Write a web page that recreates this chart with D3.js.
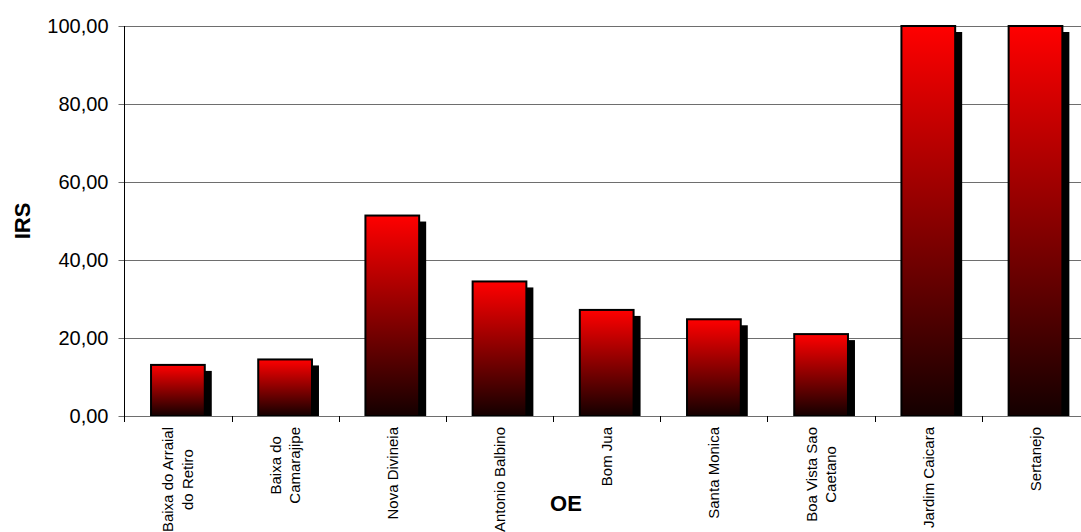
<!DOCTYPE html>
<html>
<head>
<meta charset="utf-8">
<script src="https://cdn.jsdelivr.net/npm/d3@7"></script>
<style>
  html, body { margin: 0; padding: 0; background: #fff; }
  svg { display: block; font-family: "Liberation Sans", Arial, sans-serif; }
</style>
</head>
<body>
<svg id="chart" width="1081" height="532"></svg>
<script>
// IRS per OE
const categories = [
  ["Baixa do Arraial", "do Retiro"],
  ["Baixa do", "Camarajipe"],
  ["Nova Divineia"],
  ["Antonio Balbino"],
  ["Bom Jua"],
  ["Santa Monica"],
  ["Boa Vista Sao", "Caetano"],
  ["Jardim Caicara"],
  ["Sertanejo"]
];
const irsValues = [13.1, 14.5, 51.4, 34.5, 27.2, 24.8, 21.0, 100, 100];
const yTicks = [0, 20, 40, 60, 80, 100];
const yTitle = "IRS";
const xTitle = "OE";

const svg = d3.select("#chart");
const plotLeft = 124.3, plotRight = 1089.1, plotTop = 26, plotBottom = 416;

const keys = categories.map((c, i) => i);
const x = d3.scaleBand().domain(keys).range([plotLeft, plotRight]).paddingInner(0).paddingOuter(0);
const y = d3.scaleLinear().domain([0, 100]).range([plotBottom, plotTop]);
const fmt = v => d3.format(".2f")(v).replace(".", ",");

// vertical red-to-black fill used by each bar
const defs = svg.append("defs");
const grad = defs.append("linearGradient")
  .attr("id", "barFill").attr("x1", 0).attr("y1", 0).attr("x2", 0).attr("y2", 1);
grad.append("stop").attr("offset", "0%").attr("stop-color", "#ff0000");
grad.append("stop").attr("offset", "100%").attr("stop-color", "#140000");
defs.append("clipPath").attr("id", "plotClip")
  .append("rect").attr("x", 0).attr("y", 0).attr("width", 1081).attr("height", plotBottom);

// horizontal gridlines
svg.append("g").selectAll("line").data(yTicks.filter(d => d > 0)).join("line")
  .attr("x1", plotLeft).attr("x2", 1081)
  .attr("y1", d => Math.round(y(d)) + 0.5).attr("y2", d => Math.round(y(d)) + 0.5)
  .attr("stroke", "#6e6e6e").attr("stroke-width", 1);

// y axis
const yAxis = svg.append("g").attr("transform", `translate(${Math.round(plotLeft) + 0.5},0)`)
  .call(d3.axisLeft(y).tickValues(yTicks).tickFormat(fmt).tickSize(6).tickPadding(10));
yAxis.select(".domain").remove();
yAxis.selectAll(".tick line").attr("stroke", "#6e6e6e");
yAxis.selectAll(".tick text")
  .attr("font-size", 20).attr("fill", "#000")
  .attr("font-family", "'Liberation Sans', Arial, sans-serif");
svg.append("line")
  .attr("x1", Math.round(plotLeft) + 0.5).attr("x2", Math.round(plotLeft) + 0.5)
  .attr("y1", y(100)).attr("y2", plotBottom)
  .attr("stroke", "#000").attr("stroke-width", 1);

// bars with offset drop shadow
const barW = x.bandwidth() * 0.52;
const bars = svg.append("g");
bars.append("g").attr("clip-path", "url(#plotClip)")
  .selectAll("rect").data(irsValues).join("rect")
  .attr("x", (d, i) => x(i) + (x.bandwidth() - barW) / 2 + 6)
  .attr("y", d => y(d) + 6)
  .attr("width", barW)
  .attr("height", d => plotBottom - y(d))
  .attr("fill", "#000");
bars.append("g").selectAll("rect").data(irsValues).join("rect")
  .attr("x", (d, i) => x(i) + (x.bandwidth() - barW) / 2 + 1)
  .attr("y", d => y(d))
  .attr("width", barW - 2)
  .attr("height", d => plotBottom - y(d))
  .attr("fill", "url(#barFill)")
  .attr("stroke", "#000").attr("stroke-width", 2);

// x axis line and ticks at band edges
svg.append("line")
  .attr("x1", plotLeft).attr("x2", 1081).attr("y1", plotBottom + 0.5).attr("y2", plotBottom + 0.5)
  .attr("stroke", "#6e6e6e").attr("stroke-width", 1);
svg.append("g").selectAll("line").data(d3.range(0, keys.length + 1)).join("line")
  .attr("x1", i => Math.round(plotLeft + i * x.step()) + 0.5)
  .attr("x2", i => Math.round(plotLeft + i * x.step()) + 0.5)
  .attr("y1", plotBottom).attr("y2", plotBottom + 6)
  .attr("stroke", "#000").attr("stroke-width", 1);

// rotated category labels, lines centred on each other, block starting below the axis
const labelTop = 427, lineGap = 19.5, fs = 15;
categories.forEach((lines, i) => {
  const cx = x(i) + x.bandwidth() / 2;
  const g = svg.append("g");
  const t = g.append("text")
    .attr("font-size", fs).attr("text-anchor", "middle").attr("fill", "#000");
  const n = lines.length;
  lines.forEach((ln, k) => {
    const off = (k - (n - 1) / 2) * lineGap;
    t.append("tspan").attr("x", 0).attr("y", off + fs * 0.35).text(ln);
  });
  const maxLen = d3.max(t.selectAll("tspan").nodes(), nd => nd.getComputedTextLength());
  g.attr("transform", `translate(${cx},${labelTop + maxLen / 2}) rotate(-90)`);
});

// axis titles
svg.append("text")
  .attr("transform", `translate(30,221) rotate(-90)`)
  .attr("text-anchor", "middle").attr("font-size", 22).attr("font-weight", "bold")
  .text(yTitle);
svg.append("text")
  .attr("x", 566).attr("y", 511)
  .attr("text-anchor", "middle").attr("font-size", 22).attr("font-weight", "bold")
  .text(xTitle);
</script>
</body>
</html>
